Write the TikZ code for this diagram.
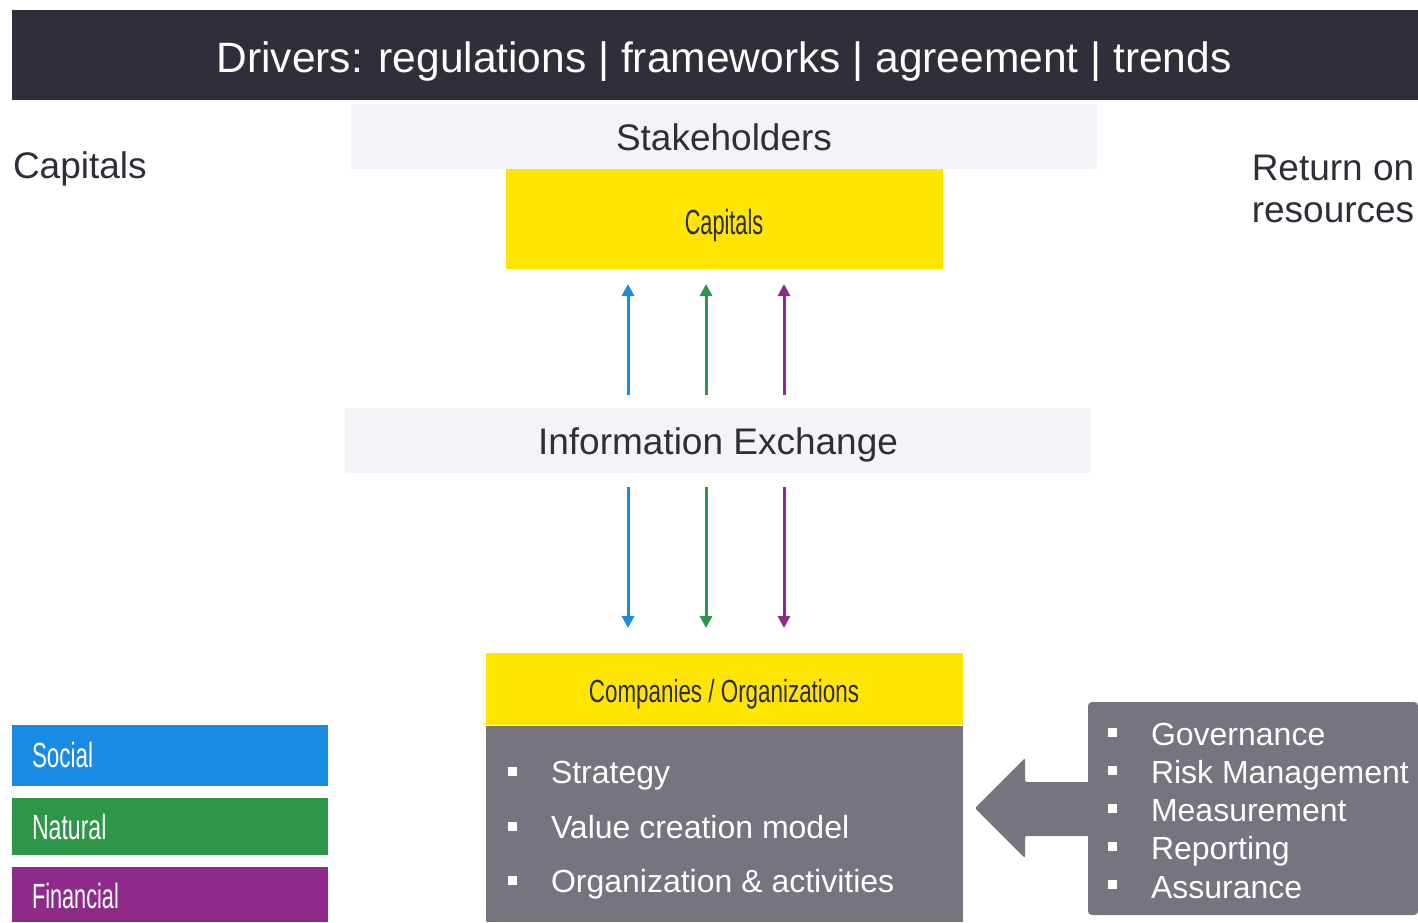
\documentclass[tikz,border=0pt]{standalone}
\usepackage{fontspec}
\setmainfont{Liberation Sans}
\usetikzlibrary{arrows.meta}
\definecolor{darkbar}{RGB}{47,47,58}
\definecolor{darktext}{RGB}{46,46,56}
\definecolor{lightband}{RGB}{244,244,248}
\definecolor{ylw}{RGB}{255,230,0}
\definecolor{slate}{RGB}{117,116,127}
\definecolor{cblue}{RGB}{26,139,227}
\definecolor{cgreen}{RGB}{46,150,72}
\definecolor{cpurple}{RGB}{142,42,138}
\newcommand{\condtxt}[2]{\scalebox{#1}[1]{#2}}
\begin{document}
\begin{tikzpicture}[x=1pt,y=-1pt,
  box/.style={rectangle, inner sep=0pt, outer sep=0pt, draw=none},
  txt/.style={inner sep=0pt, outer sep=0pt},
  big/.style={txt, font=\fontsize{37}{44}\selectfont, text=darktext},
  item/.style={txt, anchor=base west, font=\fontsize{32}{38}\selectfont, text=white},
  bul/.style={rectangle, fill=white, inner sep=0pt, minimum size=9pt},
  cond/.style={txt, font=\fontsize{35}{40}\selectfont},
  flow/.style={line width=3pt, -{Triangle[width=12pt,length=12pt]}}
]
\useasboundingbox (0,0) rectangle (1418,922);

% header
\node[box, fill=darkbar, minimum width=1406pt, minimum height=90pt] (hdr) at (715,55) {};
\node[txt, anchor=base, text=white, font=\fontsize{42.5}{50}\selectfont] (hdrt) at (724,72) {Drivers: regulations | frameworks | agreement | trends};

% side labels
\node[big, anchor=base west] (capl) at (13,178) {Capitals};
\node[big, anchor=base] (ret1) at (1333,180) {Return on};
\node[big, anchor=base] (ret2) at (1333,222) {resources};

% stakeholders band and capitals box
\node[box, fill=lightband, minimum width=746pt, minimum height=65pt] (stake) at (724,136.5) {};
\node[big, anchor=base] (staket) at (724,150) {Stakeholders};
\node[box, fill=ylw, minimum width=437pt, minimum height=100pt] (cap) at (724.5,219) {};
\node[cond, anchor=base, text=darktext] (capt) at (724,234) {\condtxt{0.62}{Capitals}};

% information exchange band
\node[box, fill=lightband, minimum width=746pt, minimum height=65pt] (ie) at (718,440.5) {};
\node[big, anchor=base] (iet) at (718,454) {Information Exchange};

% arrow end points
\coordinate (ub0) at (628,395); \coordinate (ub1) at (628,284);
\coordinate (ug0) at (706,395); \coordinate (ug1) at (706,284);
\coordinate (up0) at (784,395); \coordinate (up1) at (784,284);
\coordinate (db0) at (628,487); \coordinate (db1) at (628,628);
\coordinate (dg0) at (706,487); \coordinate (dg1) at (706,628);
\coordinate (dp0) at (784,487); \coordinate (dp1) at (784,628);
\draw[flow, cblue] (ub0) -- (ub1);
\draw[flow, cgreen] (ug0) -- (ug1);
\draw[flow, cpurple] (up0) -- (up1);
\draw[flow, cblue] (db0) -- (db1);
\draw[flow, cgreen] (dg0) -- (dg1);
\draw[flow, cpurple] (dp0) -- (dp1);

% companies
\node[box, fill=ylw, minimum width=477pt, minimum height=72pt] (comp) at (724.5,689) {};
\node[cond, anchor=base, text=darktext, font=\fontsize{32}{38}\selectfont] (compt) at (724,702) {\condtxt{0.70}{Companies / Organizations}};
\node[box, fill=slate, minimum width=477pt, minimum height=196pt] (act) at (724.5,824) {};
\node[bul] (b1) at (512,771) {};
\node[bul] (b2) at (512,826) {};
\node[bul] (b3) at (512,880) {};
\node[item] (i1) at (551,783) {Strategy};
\node[item] (i2) at (551,838) {Value creation model};
\node[item] (i3) at (551,892) {Organization \& activities};

% right box with arrow
\node[box, fill=slate, rounded corners=4pt, minimum width=330pt, minimum height=213pt] (gov) at (1253,808.5) {};
\fill[slate, rounded corners=2pt] (1092,782) -- (1025,782) -- (1025,758) -- (975,808) -- (1025,858) -- (1025,836) -- (1092,836) -- cycle;
\node[bul] (r1) at (1112,732) {};
\node[bul] (r2) at (1112,770) {};
\node[bul] (r3) at (1112,808) {};
\node[bul] (r4) at (1112,846) {};
\node[bul] (r5) at (1112,884) {};
\node[item] (g1) at (1151,745) {Governance};
\node[item] (g2) at (1151,783) {Risk Management};
\node[item] (g3) at (1151,821) {Measurement};
\node[item] (g4) at (1151,859) {Reporting};
\node[item] (g5) at (1151,898) {Assurance};

% legend
\node[box, fill=cblue, minimum width=316pt, minimum height=61pt] (soc) at (170,755.5) {};
\node[box, fill=cgreen, minimum width=316pt, minimum height=57pt] (nat) at (170,826.5) {};
\node[box, fill=cpurple, minimum width=316pt, minimum height=55pt] (fin) at (170,894.5) {};
\node[cond, anchor=base west, text=white] (soct) at (32,767) {\condtxt{0.64}{Social}};
\node[cond, anchor=base west, text=white] (natt) at (32,839) {\condtxt{0.66}{Natural}};
\node[cond, anchor=base west, text=white] (fint) at (32,908) {\condtxt{0.62}{Financial}};
\end{tikzpicture}
\end{document}
